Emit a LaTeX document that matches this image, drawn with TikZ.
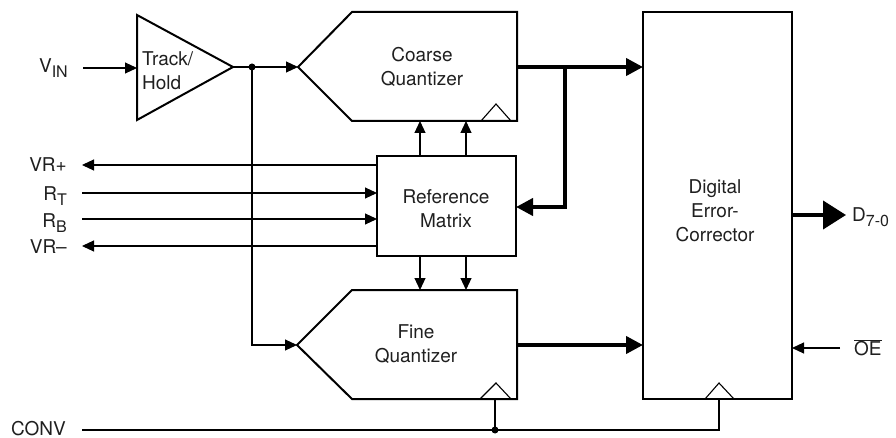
\documentclass[tikz,border=0pt]{standalone}
\usepackage{fontspec}
\setmainfont{TeX Gyre Heros}
\usetikzlibrary{arrows.meta}
\newcommand{\lowsub}[1]{\raisebox{-5pt}{\fontsize{16}{16}\selectfont #1}}
\begin{document}
\begin{tikzpicture}[x=1pt,y=-1pt,
  thinline/.style={line width=1.1pt, draw=black},
  box/.style={draw=black, line width=2pt, line join=miter},
  bus/.style={line width=4pt, line join=miter},
  arr/.style={-{Triangle[length=12pt,width=11pt]}},
  busarr/.style={-{Triangle[length=17pt,width=17pt]}},
  bigarr/.style={-{Triangle[length=23pt,width=28pt]}},
  lbl/.style={font=\fontsize{19}{24}\selectfont, inner sep=0pt, text=black!88},
  jdot/.style={circle, fill=black, inner sep=0pt, minimum size=7pt}]
\useasboundingbox (0,0) rectangle (896,438);

% ---- Track/Hold
\coordinate (th1) at (137,15);
\coordinate (thtip) at (233,67);
\coordinate (th3) at (137,120);
\coordinate (thin) at (137,68);
\draw[box] (th1) -- (thtip) -- (th3) -- cycle;
\node[lbl, align=left, anchor=west] (thtxt) at (142,71) {Track/\\Hold};

% ---- Coarse quantizer
\coordinate (cq) at (298,67);
\coordinate (cqtl) at (352,12);
\coordinate (cqtr) at (517,12);
\coordinate (cqbr) at (517,121);
\coordinate (cqbl) at (352,121);
\draw[box] (cq) -- (cqtl) -- (cqtr) -- (cqbr) -- (cqbl) -- cycle;
\coordinate (cqk1) at (481,121);
\coordinate (cqk2) at (496,104);
\coordinate (cqk3) at (511,121);
\draw[thinline] (cqk1) -- (cqk2) -- (cqk3);
\node[lbl, align=center] (cqtxt) at (422,67) {Coarse\\Quantizer};

% ---- Fine quantizer
\coordinate (fq) at (297,345);
\coordinate (fqtl) at (352,290);
\coordinate (fqtr) at (517,290);
\coordinate (fqbr) at (517,399);
\coordinate (fqbl) at (352,399);
\draw[box] (fq) -- (fqtl) -- (fqtr) -- (fqbr) -- (fqbl) -- cycle;
\coordinate (fqk1) at (480,399);
\coordinate (fqk2) at (496,383);
\coordinate (fqk3) at (511,399);
\draw[thinline] (fqk1) -- (fqk2) -- (fqk3);
\node[lbl, align=center] (fqtxt) at (416,344) {Fine\\Quantizer};

% ---- Reference matrix
\node[box, minimum width=139pt, minimum height=100pt, inner sep=0pt] (ref) at (446.5,206) {};
\node[lbl, align=center] (reftxt) at (446,209) {Reference\\Matrix};

% ---- Digital error corrector
\node[box, minimum width=149pt, minimum height=387pt, inner sep=0pt] (dec) at (717.5,205.5) {};
\node[lbl, align=center] (dectxt) at (715,211) {Digital\\Error-\\Corrector};
\coordinate (deck1) at (705,399);
\coordinate (deck2) at (719,383);
\coordinate (deck3) at (734,399);
\draw[thinline] (deck1) -- (deck2) -- (deck3);

% ---- labels
\node[lbl, anchor=base east] (vin) at (68,73) {V\lowsub{IN}};
\node[lbl, anchor=base east] (vrp) at (67,172) {VR+};
\node[lbl, anchor=base east] (rt) at (67,201) {R\lowsub{T}};
\node[lbl, anchor=base east] (rb) at (67,228) {R\lowsub{B}};
\node[lbl, anchor=base east] (vrm) at (67,254) {VR–};
\node[lbl, anchor=base east] (conv) at (66,435) {CONV};
\node[lbl, anchor=base west] (dout) at (852,222) {D\lowsub{7-0}};
\node[lbl, anchor=base west] (oe) at (854,355.5) {$\overline{\mbox{\fontsize{19}{24}\selectfont OE}}$};

% ---- coordinates for connectors
\coordinate (vins) at (83,68);
\coordinate (jfine) at (252,345);
\coordinate (cqout) at (517,67);
\coordinate (decin1) at (643,67);
\coordinate (br) at (565,67);
\coordinate (br2) at (565,207);
\coordinate (refin) at (516,207);
\coordinate (ua1) at (420,156); \coordinate (ub1) at (420,121);
\coordinate (ua2) at (466,156); \coordinate (ub2) at (466,121);
\coordinate (da1) at (420,256); \coordinate (db1) at (420,290);
\coordinate (da2) at (466,256); \coordinate (db2) at (466,290);
\coordinate (vrpa) at (377,165); \coordinate (vrpb) at (82,165);
\coordinate (rta) at (82,193); \coordinate (rtb) at (377,193);
\coordinate (rba) at (82,219); \coordinate (rbb) at (377,219);
\coordinate (vrma) at (377,246); \coordinate (vrmb) at (82,246);
\coordinate (fqout) at (517,345);
\coordinate (decin2) at (643,345);
\coordinate (decout) at (792,215);
\coordinate (doutend) at (846,215);
\coordinate (oes) at (840,348);
\coordinate (oee) at (792,348);
\coordinate (convs) at (82,430);
\coordinate (convc) at (719,430);
\coordinate (deck) at (719,399);
\coordinate (fqk) at (495,399);

% ---- connectors
\draw[thinline, arr] (vins) -- (thin);
\draw[thinline, arr] (thtip) -- (cq);
\node[jdot] (j1) at (252,67) {};
\draw[thinline, arr] (j1.center) -- (jfine) -- (fq);
\draw[bus, busarr] (cqout) -- (decin1);
\draw[bus, busarr] (br) -- (br2) -- (refin);
\draw[thinline, arr] (ua1) -- (ub1);
\draw[thinline, arr] (ua2) -- (ub2);
\draw[thinline, arr] (da1) -- (db1);
\draw[thinline, arr] (da2) -- (db2);
\draw[thinline, arr] (vrpa) -- (vrpb);
\draw[thinline, arr] (rta) -- (rtb);
\draw[thinline, arr] (rba) -- (rbb);
\draw[thinline, arr] (vrma) -- (vrmb);
\draw[bus, busarr] (fqout) -- (decin2);
\draw[bus, bigarr] (decout) -- (doutend);
\draw[thinline, arr] (oes) -- (oee);
\draw[thinline] (convs) -- (convc) -- (deck);
\node[jdot] (j2) at (495,430) {};
\draw[thinline] (j2.center) -- (fqk);
\end{tikzpicture}
\end{document}
